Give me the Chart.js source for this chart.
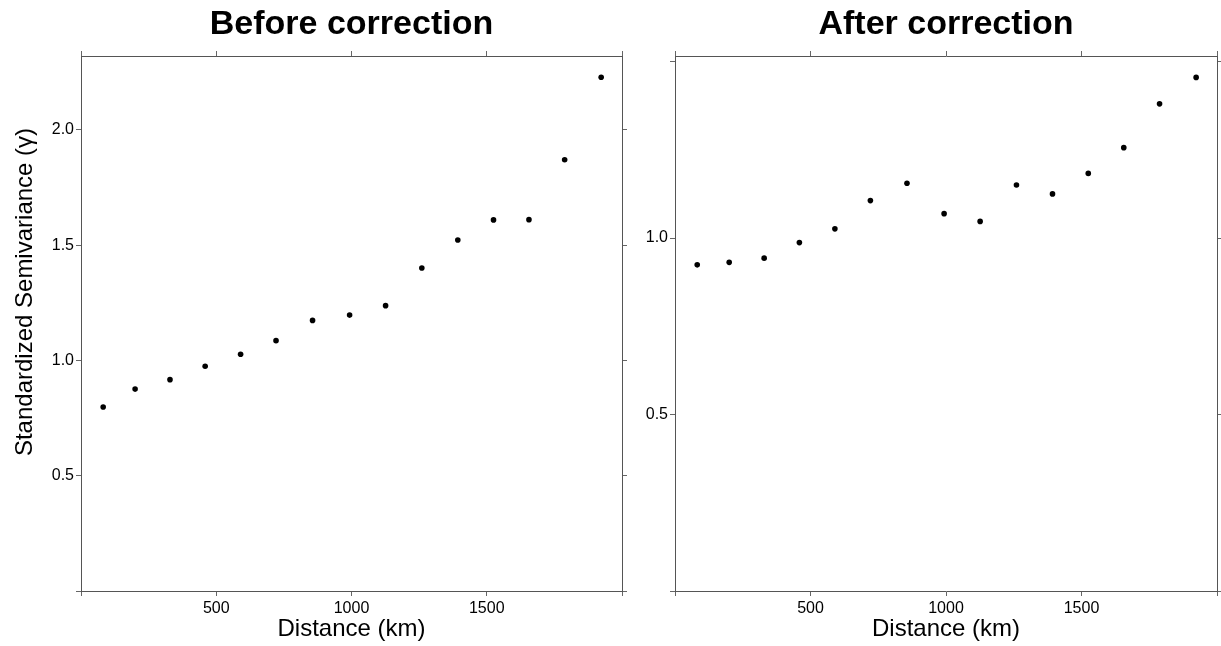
<!DOCTYPE html>
<html>
<head>
<meta charset="utf-8">
<script src="https://cdn.jsdelivr.net/npm/chart.js@4.4.0/dist/chart.umd.min.js"></script>
<style>
  html, body { margin: 0; padding: 0; background: #fff; }
  #wrap { position: relative; width: 1221px; height: 646px; background: #fff; }
  #wrap canvas { position: absolute; top: 0; }
  #before { left: 0; }
  #after { left: 640px; }
</style>
</head>
<body>
<div id="wrap">
  <canvas id="before" width="640" height="646"></canvas>
  <canvas id="after" width="581" height="646"></canvas>
</div>
<script>
// lag distances (km), same bins in both panels
const distances = [82, 200, 329, 459, 590, 721, 856, 993, 1126, 1260, 1393, 1525, 1656, 1788, 1923];
const gammaBefore = [0.798, 0.876, 0.917, 0.975, 1.027, 1.086, 1.174, 1.197, 1.238, 1.401, 1.523, 1.610, 1.611, 1.871, 2.229];
const gammaAfter = [0.924, 0.931, 0.943, 0.987, 1.026, 1.106, 1.155, 1.069, 1.047, 1.150, 1.125, 1.183, 1.256, 1.380, 1.455];

const xTickLabels = [500, 1000, 1500];
const yLabelsBefore = [0.5, 1.0, 1.5, 2.0];
const yLabelsAfter = [0.5, 1.0];

const FONT = '"Liberation Sans", Arial, Helvetica, sans-serif';
Chart.defaults.font.family = FONT;
Chart.defaults.color = '#000';

const LINE = '#555';
const TICK = '#666';

// draws "Distance (km)" and the rotated y title
const axisTitles = {
  id: 'axisTitles',
  afterDraw(chart, args, opts) {
    const {ctx, chartArea} = chart;
    ctx.save();
    ctx.fillStyle = '#000';
    ctx.font = '24px ' + FONT;
    ctx.textAlign = 'center';
    ctx.textBaseline = 'alphabetic';
    ctx.fillText(opts.xText, (chartArea.left + chartArea.right) / 2, opts.xBaseline);
    if (opts.yText) {
      ctx.translate(opts.yBaseline, opts.yCenter);
      ctx.rotate(-Math.PI / 2);
      ctx.fillText(opts.yText, 0, 0);
    }
    ctx.restore();
  }
};

const near = (list, v) => list.some(t => Math.abs(t - v) < 1e-6);

function panel(id, title, values, yMax, yLabels, fit, yText) {
  const xCommon = {
    type: 'linear', min: 0, max: 2000,
    grid: { drawOnChartArea: false, tickLength: 5, color: TICK },
    border: { color: LINE, width: 1 }
  };
  const yCommon = {
    type: 'linear', min: 0, max: yMax,
    grid: { drawOnChartArea: false, tickLength: 5, color: TICK },
    border: { color: LINE, width: 1 }
  };

  return new Chart(document.getElementById(id), {
    type: 'scatter',
    data: {
      datasets: [{
        data: distances.map((d, i) => ({x: d, y: values[i]})),
        pointRadius: 2.8,
        pointHoverRadius: 2.8,
        pointBackgroundColor: '#000',
        pointBorderWidth: 0
      }]
    },
    options: {
      responsive: false,
      animation: false,
      events: [],
      layout: { padding: 0 },
      plugins: {
        legend: { display: false },
        tooltip: { enabled: false },
        title: {
          display: true, text: title, fullSize: false, color: '#000',
          font: { size: 34, weight: 'bold', lineHeight: 1.2 },
          padding: { top: 4, bottom: 0 }
        },
        axisTitles: { xText: 'Distance (km)', xBaseline: 636, yText: yText, yBaseline: 32, yCenter: 292 }
      },
      scales: {
        x: Object.assign({}, xCommon, {
          position: 'bottom',
          ticks: {
            stepSize: 500, autoSkip: false, maxRotation: 0, padding: 3,
            font: { size: 16 }, color: '#000',
            callback: v => near(xTickLabels, v) ? String(v) : ''
          },
          afterFit: s => { s.height = fit.bottom; }
        }),
        xTop: Object.assign({}, xCommon, {
          position: 'top',
          ticks: { stepSize: 500, display: false },
          afterFit: s => { s.height = fit.top; }
        }),
        y: Object.assign({}, yCommon, {
          position: 'left',
          ticks: {
            stepSize: 0.5, includeBounds: false, padding: 2,
            font: { size: 16 }, color: '#000',
            callback: v => near(yLabels, v) ? v.toFixed(1) : ''
          },
          afterFit: s => { s.width = fit.left; }
        }),
        yRight: Object.assign({}, yCommon, {
          position: 'right',
          ticks: { stepSize: 0.5, includeBounds: false, display: false },
          afterFit: s => { s.width = fit.right; }
        })
      }
    },
    plugins: [axisTitles]
  });
}

panel('before', 'Before correction', gammaBefore, 2.321, yLabelsBefore,
  { left: 81, right: 18, top: 11.2, bottom: 55 }, 'Standardized Semivariance (\u03b3)');
panel('after', 'After correction', gammaAfter, 1.5156, yLabelsAfter,
  { left: 35, right: 4, top: 11.2, bottom: 55 }, null);
</script>
</body>
</html>
